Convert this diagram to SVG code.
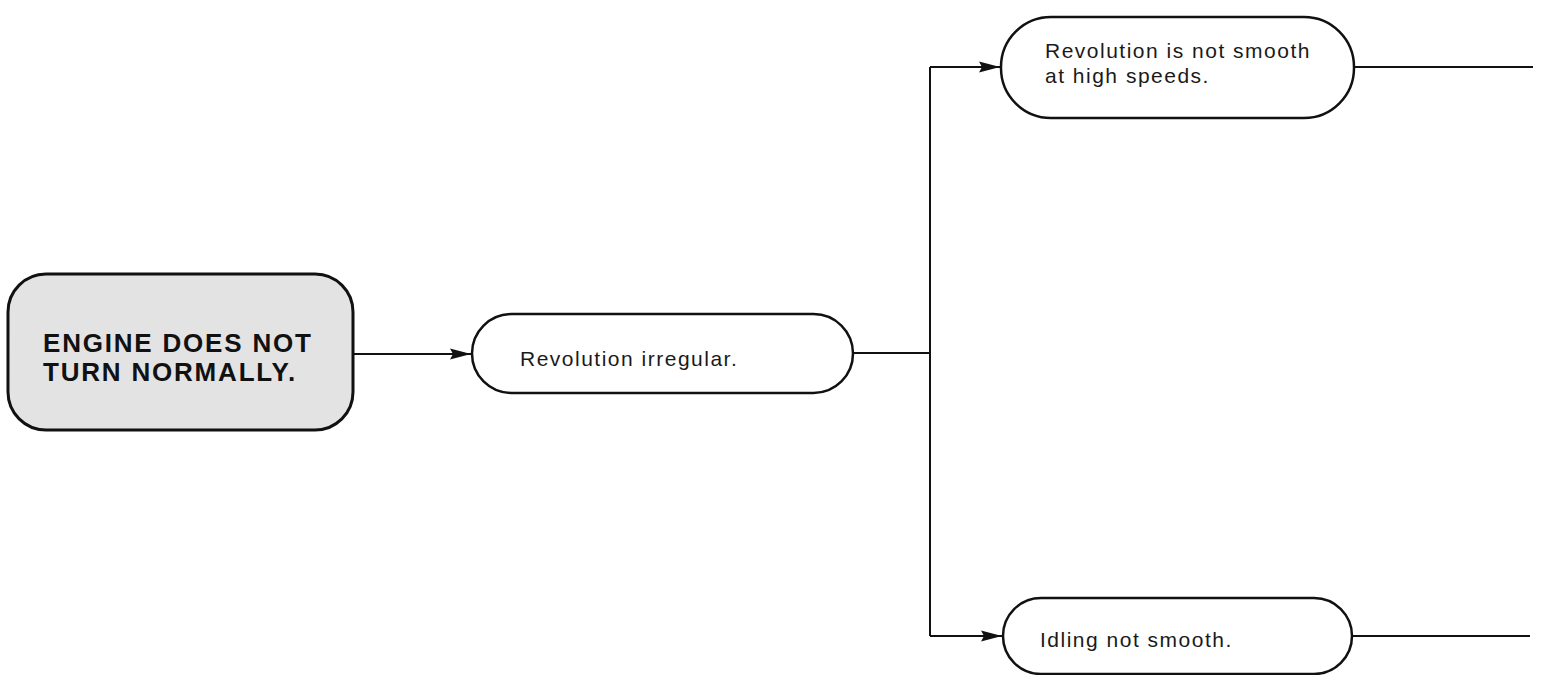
<svg xmlns="http://www.w3.org/2000/svg" width="1546" height="675" viewBox="0 0 1546 675">
<style>
.node{fill:#fff;stroke:#111;stroke-width:2.5}
.start{fill:#e3e3e3;stroke:#111;stroke-width:3}
.t{font-family:"Liberation Sans",Arial,sans-serif;font-size:21px;letter-spacing:1.5px;fill:#1a1a1a}
.tb{font-family:"Liberation Sans",Arial,sans-serif;font-size:26px;font-weight:bold;letter-spacing:1.8px;fill:#111}
.c{fill:none;stroke:#111;stroke-width:2}
</style>
<defs>
<marker id="arr" markerWidth="22" markerHeight="12" refX="21" refY="6" orient="auto" markerUnits="userSpaceOnUse">
<path d="M0,0.5 L21,6 L0,11.5 L3,6 Z" fill="#111"/>
</marker>
</defs>
<g id="connectors">
<path class="c" d="M353,354 H471" marker-end="url(#arr)"/>
<path class="c" d="M853,353 H930"/>
<path class="c" d="M930,67 V636"/>
<path class="c" d="M930,67 H1000" marker-end="url(#arr)"/>
<path class="c" d="M930,636 H1002" marker-end="url(#arr)"/>
<path class="c" d="M1354,67 H1533"/>
<path class="c" d="M1352,636 H1530"/>
</g>
<g id="n1">
<rect class="start" x="8" y="274" width="345" height="156" rx="38"/>
<text class="tb" x="43" y="352">ENGINE DOES NOT</text>
<text class="tb" x="43" y="381">TURN NORMALLY.</text>
</g>
<g id="n2">
<rect class="node" x="472" y="314" width="381" height="79" rx="39.5"/>
<text class="t" x="520" y="366">Revolution irregular.</text>
</g>
<g id="n3">
<rect class="node" x="1001" y="17" width="353" height="101" rx="50"/>
<text class="t" x="1045" y="58">Revolution is not smooth</text>
<text class="t" x="1045" y="83">at high speeds.</text>
</g>
<g id="n4">
<rect class="node" x="1003" y="598" width="349" height="76" rx="38"/>
<text class="t" x="1040" y="647">Idling not smooth.</text>
</g>
</svg>
